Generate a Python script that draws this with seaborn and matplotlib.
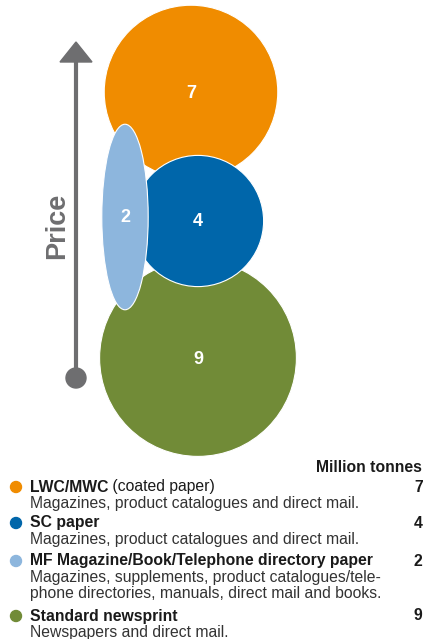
import matplotlib
matplotlib.use("Agg")
import matplotlib.pyplot as plt
from matplotlib.patches import Ellipse, Polygon, Circle
import numpy as np
import pandas as pd
import seaborn as sns

sns.set_theme(style="white")
plt.rcParams["font.family"] = ["Liberation Sans", "DejaVu Sans"]

# Paper grades, volumes (million tonnes) and colours
grades = ["LWC/MWC", "SC paper", "MF Magazine/Book/Telephone directory paper", "Standard newsprint"]
title_suffix = [" (coated paper)", "", "", ""]
descriptions = [
    "Magazines, product catalogues and direct mail.",
    "Magazines, product catalogues and direct mail.",
    "Magazines, supplements, product catalogues/tele-\nphone directories, manuals, direct mail and books.",
    "Newspapers and direct mail.",
]
volumes = [7, 4, 2, 9]
colors = ["#F08C00", "#0066AA", "#8DB6DD", "#718B37"]

# Bubble centres on the price chart (pixel layout)
bubble_x = [191, 198, 125, 198]
bubble_y = [92, 221, 217, 358]

W, H, DPI = 423, 639, 100
fig = plt.figure(figsize=(W / DPI, H / DPI), dpi=DPI)
ax = fig.add_axes([0, 0, 1, 1])
ax.set_xlim(0, W)
ax.set_ylim(H, 0)
ax.axis("off")

K = 32.8  # pixel radius per sqrt(million tonnes)
px_to_pt = 72 / DPI

df = pd.DataFrame({"grade": grades, "volume": volumes, "x": bubble_x, "y": bubble_y})
circles = df.iloc[[0, 3, 1]]  # draw order: orange, green, blue on top
s_max = (2 * K * np.sqrt(9) * px_to_pt) ** 2
sns.scatterplot(
    data=circles, x="x", y="y", hue="grade", size="volume",
    palette=dict(zip(grades, colors)), sizes=(0, s_max), size_norm=(0, 9),
    edgecolor="white", linewidth=0.8, alpha=1, legend=False, ax=ax, zorder=2,
)

# Narrow MF grade drawn as an ellipse of equal area
r2 = K * np.sqrt(volumes[2])
ax.add_patch(Ellipse((bubble_x[2], bubble_y[2]), width=r2, height=4 * r2,
                     facecolor=colors[2], edgecolor="white", lw=0.8, zorder=4))

for x, y, v in zip(bubble_x, bubble_y, volumes):
    ax.text(x, y + 1, str(v), color="white", fontsize=13, fontweight="bold",
            ha="center", va="center", zorder=5)

# Price axis arrow
gray = "#6E6E70"
ax.plot([76, 76], [378, 60], color=gray, lw=3, solid_capstyle="butt", zorder=1)
ax.add_patch(Polygon([[60, 62], [92, 62], [76, 42]], closed=True, color=gray, zorder=1))
ax.add_patch(Circle((76, 378), 10, color=gray, zorder=1))
ax.text(57, 226, "Price", rotation=90, color=gray, fontsize=19.5, fontweight="bold",
        ha="center", va="center")

# Legend block
FS = 11.3
ax.text(422, 468, "Million tonnes", fontsize=FS, fontweight="bold", color="#1a1a1a",
        ha="right", va="center")
row_y = [487, 523, 561, 616]
for i in range(4):
    y = row_y[i]
    ax.add_patch(Circle((16, y), 5.5, color=colors[i]))
    t = ax.text(30, y, grades[i], fontsize=FS, fontweight="bold", color="#1a1a1a",
                ha="left", va="center")
    if title_suffix[i]:
        ax.annotate(title_suffix[i], xycoords=t, xy=(1, 0.5), va="center",
                    fontsize=FS, color="#1a1a1a")
    ax.text(30, y + 9, descriptions[i], fontsize=FS, color="#333333",
            ha="left", va="top", linespacing=1.12)
    ax.text(414, y, str(volumes[i]), fontsize=FS, fontweight="bold", color="#1a1a1a",
            ha="left", va="center")

fig.savefig("out.png", dpi=DPI)
